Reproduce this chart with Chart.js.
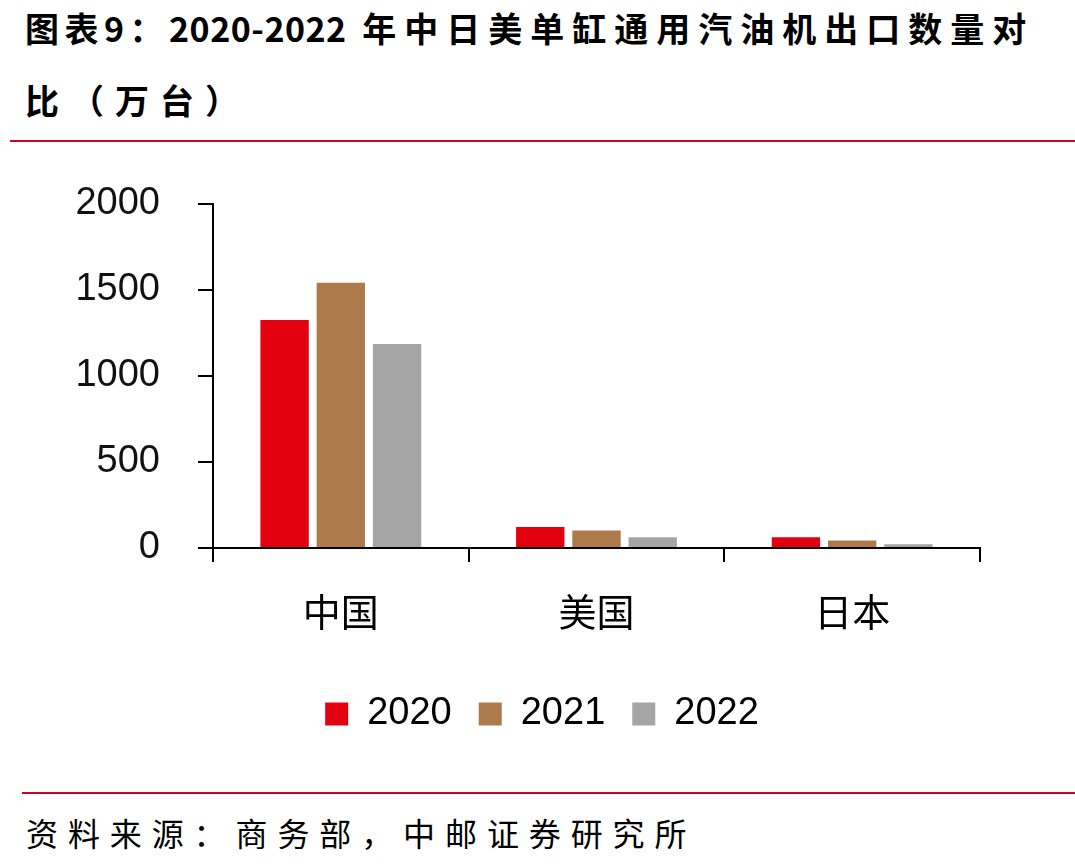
<!DOCTYPE html>
<html>
<head>
<meta charset="utf-8">
<script src="https://cdn.jsdelivr.net/npm/chart.js@4/dist/chart.umd.min.js"></script>
<style>
  body { margin: 0; background: #fff; width: 1075px; height: 868px; overflow: hidden; position: relative; font-family: "Noto Sans CJK SC", sans-serif; }
  .title { position: absolute; left: 25px; font-size: 34px; font-weight: 700; color: #000; white-space: nowrap; line-height: 40px; }
  .t1 { top: 8px; }
  .t2 { top: 80px; letter-spacing: 11px; }
  .sp1 { letter-spacing: 5.5px; }
  .sp2 { letter-spacing: 0.5px; }
  .sp3 { letter-spacing: 8px; }
  .rule { position: absolute; height: 2px; background: #d0021b; }
  .source { position: absolute; left: 26px; top: 812px; font-size: 32px; letter-spacing: 9.9px; color: #000; white-space: nowrap; line-height: 40px; }
  .chart-box { position: absolute; left: 0; top: 150px; width: 1075px; height: 620px; }
</style>
</head>
<body>
<div class="title t1"><span class="sp1">图表9：</span><span class="sp2">2020-2022</span><span class="sp3"> 年中日美单缸通用汽油机出口数量对</span></div>
<div class="title t2">比（万台）</div>
<div class="rule" style="left:10px; top:140px; width:1065px;"></div>
<div class="chart-box"><canvas id="chart"></canvas></div>
<div class="rule" style="left:22px; top:792px; width:1053px;"></div>
<div class="source">资料来源：商务部，中邮证券研究所</div>

<script>
const categories = ['中国', '美国', '日本'];
const years = ['2020', '2021', '2022'];
const values2020 = [1325, 122, 62];
const values2021 = [1542, 102, 43];
const values2022 = [1186, 62, 22];
const yTicks = [0, 500, 1000, 1500, 2000];

const colors = ['#e3000f', '#ad7a4c', '#a5a5a5'];

const series = [values2020, values2021, values2022];

const data = {
  labels: categories,
  datasets: years.map((year, i) => ({
    label: year,
    data: series[i],
    backgroundColor: colors[i],
    borderWidth: 0,
    categoryPercentage: 0.66,
    barPercentage: 0.86
  }))
};

// legend sits a bit right of the padded area's centre in the original
const shiftLegend = {
  id: 'shiftLegend',
  afterLayout: (chart) => {
    chart.legend.left += 52;
    chart.legend.right += 52;
  }
};

const chart = new Chart(document.getElementById('chart'), {
  type: 'bar',
  data: data,
  plugins: [shiftLegend],
  options: {
    responsive: true,
    maintainAspectRatio: false,
    animation: false,
    layout: {
      padding: { top: 54, right: 95, left: 0, bottom: 27 }
    },
    plugins: {
      tooltip: { enabled: false },
      legend: {
        position: 'bottom',
        labels: {
          boxWidth: 23,
          boxHeight: 23,
          padding: 27,
          color: '#000',
          font: { family: 'Liberation Sans, Arial, sans-serif', size: 38 }
        }
      }
    },
    scales: {
      x: {
        grid: {
          display: true,
          drawOnChartArea: false,
          color: '#000',
          lineWidth: 2,
          tickLength: 14,
          offset: true
        },
        border: { color: '#000', width: 2 },
        ticks: {
          color: '#000',
          padding: 27,
          font: { family: 'Noto Sans CJK SC, sans-serif', size: 38 }
        },
        afterFit: (scale) => { scale.height = 120; }
      },
      y: {
        min: 0,
        max: 2000,
        afterBuildTicks: (scale) => { scale.ticks = yTicks.map(v => ({ value: v })); },
        grid: {
          display: true,
          drawOnChartArea: false,
          color: '#000',
          lineWidth: 2,
          tickLength: 15
        },
        border: { color: '#000', width: 2 },
        ticks: {
          color: '#111',
          padding: 38,
          font: { family: 'Liberation Sans, Arial, sans-serif', size: 38 },
          callback: (value) => String(value)
        },
        afterFit: (scale) => {
          scale.width = 213;
          // keep the top label from pushing the plot down
          scale.paddingTop = 0;
          scale.paddingBottom = 0;
        }
      }
    }
  }
});
</script>
</body>
</html>
